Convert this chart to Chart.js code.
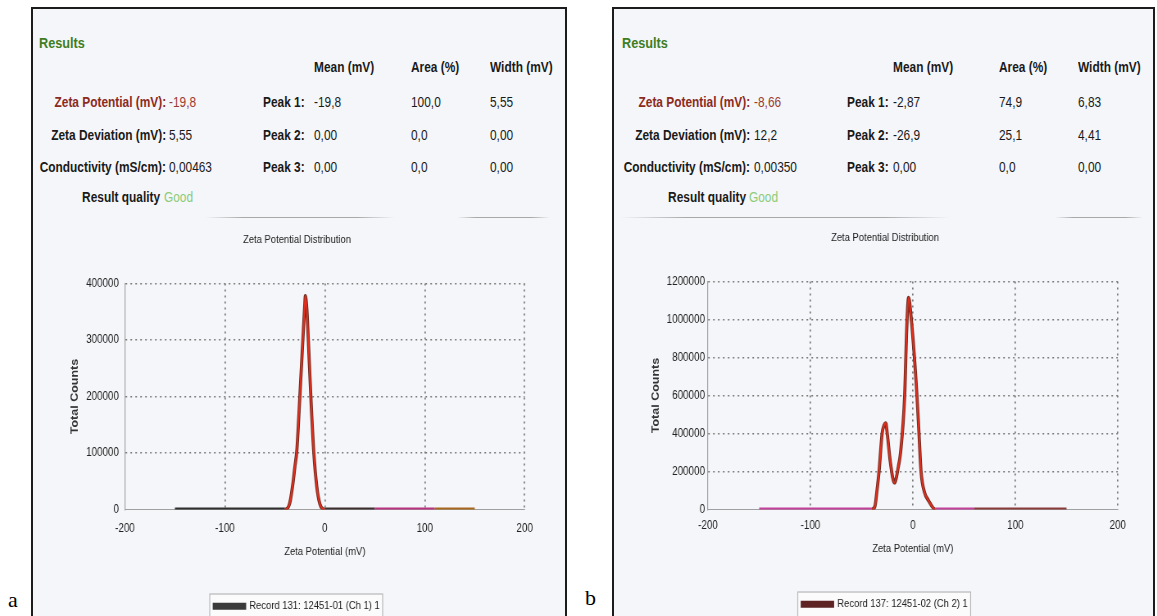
<!DOCTYPE html>
<html>
<head>
<meta charset="utf-8">
<script src="https://cdn.jsdelivr.net/npm/chart.js@4.4.1/dist/chart.umd.min.js"></script>
<style>
  html, body { margin: 0; padding: 0; background: #fff; }
  body { width: 1157px; height: 616px; position: relative; overflow: hidden;
         font-family: 'Liberation Sans', Arial, sans-serif; }
  .panel { position: absolute; top: 7px; height: 640px; border: 2px solid #1c1c1c;
           background: #f4f6f9; box-sizing: border-box; }
  .t { position: absolute; white-space: nowrap; font-size: 14.5px; line-height: 18px; color: #1a1a1a;
       transform: scaleX(0.82); transform-origin: left center; }
  .t.r { transform-origin: right center; }
  .b { font-weight: bold; }
  .fig { position: absolute; font-family: 'Liberation Serif', 'Times New Roman', serif; font-size: 22px; line-height: 24px; }
  .rule { position: absolute; height: 1px; top: 217px;
          background: linear-gradient(to right, rgba(150,150,150,0), rgba(150,150,150,0.8) 20%, rgba(150,150,150,0.8) 80%, rgba(150,150,150,0)); }
  canvas { position: absolute; }
</style>
</head>
<body>
<div class="panel" style="left:31px; width:536px;"></div>
<div class="panel" style="left:612px; width:543px;"></div>
<div class="rule" style="left:205px; width:190px;"></div>
<div class="rule" style="left:457px; width:93px;"></div>
<div class="rule" style="left:620px; width:330px;"></div>
<div class="rule" style="left:1055px; width:88px;"></div>
<div class="fig" style="left:8px; top:588px;">a</div>
<div class="fig" style="left:585px; top:586px;">b</div>
<div id="texts"></div>
<canvas id="chartA"></canvas>
<canvas id="chartB"></canvas>

<script>
// Results table text
const rowLabels = ['Zeta Potential (mV):', 'Zeta Deviation (mV):', 'Conductivity (mS/cm):'];
const colHeads = ['Mean (mV)', 'Area (%)', 'Width (mV)'];
const peakNames = ['Peak 1:', 'Peak 2:', 'Peak 3:'];

const summaryA = ['-19,8', '5,55', '0,00463'];
const meansA = ['-19,8', '0,00', '0,00'];
const areasA = ['100,0', '0,0', '0,0'];
const widthsA = ['5,55', '0,00', '0,00'];

const summaryB = ['-8,66', '12,2', '0,00350'];
const meansB = ['-2,87', '-26,9', '0,00'];
const areasB = ['74,9', '25,1', '0,0'];
const widthsB = ['6,83', '4,41', '0,00'];

// Distribution curves (zeta potential in mV, total counts)
const zetaA = [-150, -40, -37, -35, -32, -30, -28, -25, -22, -20, -19.5, -18, -16.5, -14, -11, -8, -5, -2, 0, 50, 110, 150];
const countsA = [0, 0, 3000, 12000, 45000, 75000, 105000, 200000, 300000, 365000, 378000, 355000, 300000, 200000, 100000, 40000, 10000, 1000, 0, 0, 0, 0];

const zetaB = [-150, -60, -40, -37, -35, -33, -30, -28, -26.5, -25, -22, -18, -14, -12, -8, -6, -4.2, -1.5, 4, 6, 8, 11.5, 15, 22, 60, 150];
const countsB = [0, 0, 0, 17000, 100000, 200000, 400000, 445000, 455000, 400000, 250000, 141000, 230000, 300000, 600000, 950000, 1115000, 1000000, 600000, 400000, 200000, 88000, 50000, 0, 0, 0];

const xTicks = [-200, -100, 0, 100, 200];
const yTicksA = [0, 100000, 200000, 300000, 400000];
const yTicksB = [0, 200000, 400000, 600000, 800000, 1000000, 1200000];

const legendA = 'Record 131: 12451-01 (Ch 1) 1';
const legendB = 'Record 137: 12451-02 (Ch 2) 1';

// the original software uses a condensed face; squeeze horizontally to get the same look
const SX = 0.82;

// ---- header text ----
const box = document.getElementById('texts');
function put(x, y, text, opts) {
    opts = opts || {};
    const d = document.createElement('div');
    d.className = 't' + (opts.bold ? ' b' : '') + (opts.right ? ' r' : '');
    d.textContent = text;
    if (opts.right) d.style.right = (1157 - x) + 'px';
    else d.style.left = x + 'px';
    d.style.top = (y - 9) + 'px';
    if (opts.color) d.style.color = opts.color;
    if (opts.size) d.style.fontSize = opts.size + 'px';
    box.appendChild(d);
}

function resultsBlock(p, summary, means, areas, widths) {
    put(p.results, 43, 'Results', {bold: true, color: '#3f7d22', size: 15.5});
    colHeads.forEach((h, i) => put(p.cols[i], 67, h, {bold: true}));
    const rowsY = [102, 135, 167];
    rowsY.forEach((y, i) => {
        const isZeta = i === 0;
        put(p.labelRight, y, rowLabels[i], {bold: true, right: true, color: isZeta ? '#8c2a1e' : null});
        put(p.value, y, summary[i], {color: isZeta ? '#9b3b30' : null});
        put(p.peak, y, peakNames[i], {bold: true});
        put(p.cols[0], y, means[i]);
        put(p.cols[1], y, areas[i]);
        put(p.cols[2], y, widths[i]);
    });
    put(p.qualityRight, 197, 'Result quality', {bold: true, right: true});
    put(p.qualityRight + 3, 197, 'Good', {color: '#8dcc79'});
}

resultsBlock({results: 39, labelRight: 166, value: 169, peak: 263, cols: [314, 411, 490], qualityRight: 160.5},
    summaryA, meansA, areasA, widthsA);
resultsBlock({results: 622, labelRight: 750, value: 754, peak: 847, cols: [893, 999, 1078], qualityRight: 745.6},
    summaryB, meansB, areasB, widthsB);

// ---- charts ----
const FONT = "'Liberation Sans', Arial, sans-serif";

const legendFrame = {
    id: 'legendFrame',
    beforeDraw(chart) {
        const hb = chart.legend && chart.legend.legendHitBoxes && chart.legend.legendHitBoxes[0];
        if (!hb) return;
        const ctx = chart.ctx;
        ctx.save();
        ctx.fillStyle = '#fbfbfc';
        ctx.strokeStyle = '#b8b8b8';
        ctx.lineWidth = 1.2;
        ctx.fillRect(hb.left - 5, hb.top - 6, hb.width + 8, 40);
        ctx.strokeRect(hb.left - 5.5, hb.top - 6.5, hb.width + 9, 41);
        ctx.restore();
    }
};

function bandColor(x, bands) {
    for (const b of bands) {
        if (x >= b[0] && x < b[1]) return b[2];
    }
    return '#3a3030';
}

function makeChart(id, xs, ys, yTicks, legendText, L) {
    const canvas = document.getElementById(id);
    const W = Math.round(L.width / SX);
    canvas.width = W;
    canvas.height = L.height;
    canvas.style.left = L.left + 'px';
    canvas.style.top = L.top + 'px';
    canvas.style.width = (W * SX) + 'px';
    canvas.style.height = L.height + 'px';
    const right = L.left + W * SX;

    const pts = xs.map((x, i) => ({x: x, y: ys[i]}));
    const flat = c => c.p0.parsed.y === 0 && c.p1.parsed.y === 0;
    const hidden = c => c.tick && c.tick.value === c.scale.min;
    return new Chart(canvas, {
        type: 'line',
        data: {
            datasets: [{
                label: legendText,
                data: pts,
                order: 2,
                borderColor: L.legendColor,
                backgroundColor: L.legendColor,
                borderWidth: 3.8,
                pointRadius: 0,
                cubicInterpolationMode: 'monotone',
                segment: {
                    borderColor: c => flat(c) ? bandColor(c.p0.parsed.x, L.bands) : '#6b2a20'
                }
            }, {
                label: 'core',
                data: pts,
                order: 1,
                borderColor: '#e2301e',
                borderWidth: 2,
                pointRadius: 0,
                cubicInterpolationMode: 'monotone',
                segment: {
                    borderColor: c => flat(c) ? 'rgba(0,0,0,0)' : '#e2301e'
                }
            }]
        },
        options: {
            responsive: false,
            devicePixelRatio: 1,
            animation: false,
            events: [],
            layout: {padding: 0},
            plugins: {
                tooltip: {enabled: false},
                title: {
                    display: true,
                    text: 'Zeta Potential Distribution',
                    color: '#222',
                    font: {family: FONT, size: 11.5, weight: 'normal', lineHeight: 1.2},
                    padding: {top: L.titleTop, bottom: L.titleBottom}
                },
                legend: {
                    position: 'bottom',
                    labels: {
                        filter: item => item.datasetIndex === 0,
                        boxWidth: 37,
                        boxHeight: 3,
                        padding: 10,
                        color: '#222',
                        font: {family: FONT, size: 11.5}
                    }
                }
            },
            scales: {
                x: {
                    type: 'linear',
                    min: -200,
                    max: 200,
                    afterBuildTicks: sc => { sc.ticks = xTicks.map(v => ({value: v})); },
                    afterFit: sc => { sc.height = L.xHeight; },
                    grid: {color: c => hidden(c) ? 'rgba(0,0,0,0)' : '#7a7a7a', lineWidth: 1.7, drawTicks: false},
                    border: {display: true, color: '#a0a0a0', width: 1, dash: [2, 4]},
                    ticks: {color: '#222', padding: L.xTickPad, maxRotation: 0, font: {family: FONT, size: 12}, callback: v => String(v)},
                    title: {display: true, text: 'Zeta Potential (mV)', color: '#222',
                            font: {family: FONT, size: 11.5, lineHeight: 1.2}, padding: {top: 0, bottom: L.xTitleBottom}}
                },
                y: {
                    min: 0,
                    max: yTicks[yTicks.length - 1],
                    afterBuildTicks: sc => { sc.ticks = yTicks.map(v => ({value: v})); },
                    afterFit: sc => { sc.width = (L.plotLeft - L.left) / SX; },
                    grid: {color: c => hidden(c) ? 'rgba(0,0,0,0)' : '#7a7a7a', lineWidth: 1.4, drawTicks: false},
                    border: {display: true, color: '#a0a0a0', width: 1.2, dash: [2, 4]},
                    ticks: {color: '#222', padding: L.yTickGap / SX, font: {family: FONT, size: 12}, callback: v => String(v)},
                    title: {display: true, text: 'Total Counts', color: '#333',
                            font: {family: FONT, size: 12.5, weight: 'bold', lineHeight: 1.2},
                            padding: {top: (L.yTitleX - L.left) / SX - 7.5, bottom: 0}}
                },
                // empty spacer on the right so the title and legend stay centred on the canvas
                spacer: {
                    type: 'linear',
                    position: 'right',
                    grid: {display: false},
                    border: {display: false},
                    ticks: {display: false},
                    afterFit: sc => { sc.width = (right - L.plotRight) / SX; }
                }
            }
        },
        plugins: [legendFrame]
    });
}

makeChart('chartA', zetaA, countsA, yTicksA, legendA, {
    left: 36, top: 222, width: 522, height: 400,
    plotLeft: 125, plotRight: 525, yTitleX: 75, yTickGap: 6,
    legendColor: '#3a3a3a',
    bands: [[-200, -38, '#2e2e2e'], [-38, 50, '#3d2f2f'], [50, 110, '#b8337f'], [110, 200, '#a8661e']],
    xHeight: 81, titleTop: 11.4, titleBottom: 36.4, xTickPad: 12, xTitleBottom: 31.4
});
makeChart('chartB', zetaB, countsB, yTicksB, legendB, {
    left: 617, top: 220, width: 536, height: 400,
    plotLeft: 708, plotRight: 1118, yTitleX: 656, yTickGap: 3,
    legendColor: '#5e2424',
    bands: [[-200, -38, '#c2409a'], [-38, 60, '#c2409a'], [60, 200, '#8a3c3c']],
    xHeight: 79, titleTop: 11.4, titleBottom: 36.4, xTickPad: 9, xTitleBottom: 32.4
});
</script>
</body>
</html>
